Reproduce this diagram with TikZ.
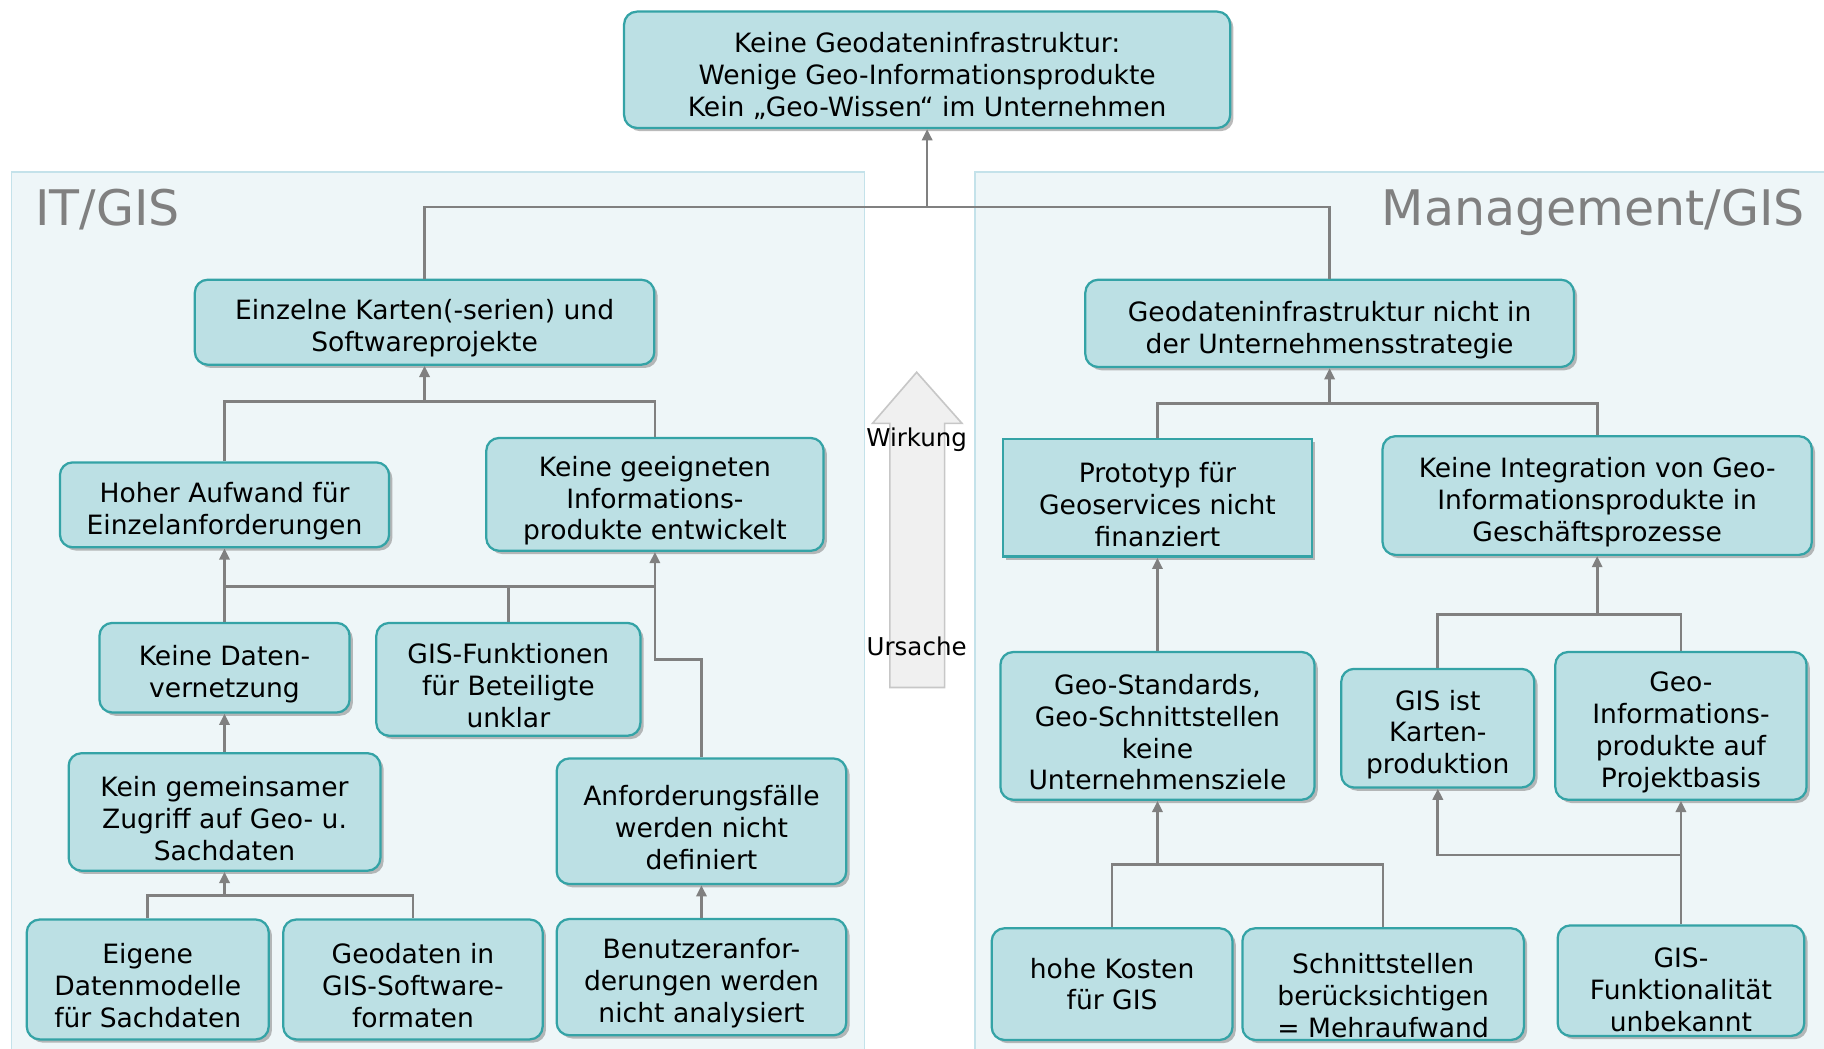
\documentclass[tikz,border=0pt]{standalone}
\usepackage{fontspec}
\setmainfont{DejaVu Sans}
\usepackage{tikz}
\usetikzlibrary{arrows.meta,shadows,calc,positioning}
\definecolor{boxfill}{RGB}{188,224,228}
\definecolor{boxdraw}{RGB}{52,163,166}
\definecolor{panelfill}{RGB}{238,246,248}
\definecolor{paneldraw}{RGB}{196,226,234}
\definecolor{linegray}{RGB}{128,128,128}

\begin{document}
\begin{tikzpicture}[x=0.02cm, y=-0.02cm, >={Triangle[length=5.5pt,width=5pt]},
   sz/.style 2 args={minimum width=#1*0.02cm, minimum height=#2*0.02cm},
   l2/.style={text height=31.7pt}, l3/.style={text height=47.3pt}, l4/.style={text height=62.9pt},
   title/.style={text=black!50, font=\fontsize{24}{28}\selectfont, inner sep=0}]
   \useasboundingbox (0,0) rectangle (1568,901);
   % panels
   \draw[paneldraw, fill=panelfill, line width=0.8pt] (10,148) rectangle (743,910);
   \draw[paneldraw, fill=panelfill, line width=0.8pt] (838,148) rectangle (1575,910);
   \node[title, anchor=base west] (itgis) at (30,194) {IT/GIS};
   \node[title, anchor=base east] (mgmt) at (1552,194) {Management/GIS};
   % Ursache -> Wirkung
   \draw[black!22, fill=black!6, line width=0.8pt] (765,591) -- (765,364) -- (750,364) -- (788,320)
      -- (827,364) -- (812,364) -- (812,591) -- cycle;
   \node[font=\fontsize{12}{14}\selectfont] (wirk) at (788,378) {Wirkung};
   \node[font=\fontsize{12}{14}\selectfont] (urs) at (788,556) {Ursache};
   \begin{scope}[every node/.style={draw=boxdraw, fill=boxfill, line width=1.1pt, rounded corners=0.22cm,
      align=center, inner sep=0, font=\fontsize{13}{15.6}\selectfont,
      drop shadow={shadow xshift=1.6pt, shadow yshift=-1.6pt, fill=black!45, opacity=0.6}}]
    \node[sz={521}{100}, l3] (top) at (797,60) {Keine Geodateninfrastruktur:\\Wenige Geo-Informationsprodukte\\Kein „Geo-Wissen“ im Unternehmen};
    % IT/GIS
    \node[sz={395}{73}, l2] (kart) at (365,277) {Einzelne Karten(-serien) und\\Softwareprojekte};
    \node[sz={283}{73}, l2] (hoher) at (193,434) {Hoher Aufwand für\\Einzelanforderungen};
    \node[sz={290}{97}, l3] (geeig) at (563,425) {Keine geeigneten\\Informations-\\produkte entwickelt};
    \node[sz={215}{77}, l2] (daten) at (193,574) {Keine Daten-\\vernetzung};
    \node[sz={227}{97}, l3] (gisf) at (437,584) {GIS-Funktionen\\für Beteiligte\\unklar};
    \node[sz={268}{101}, l3] (gem) at (193,698) {Kein gemeinsamer\\Zugriff auf Geo- u.\\Sachdaten};
    \node[sz={249}{108}, l3] (anf) at (603,706) {Anforderungsfälle\\werden nicht\\definiert};
    \node[sz={208}{103}, l3] (eig) at (127,842) {Eigene\\Datenmodelle\\für Sachdaten};
    \node[sz={223}{103}, l3] (geod) at (355,842) {Geodaten in\\GIS-Software-\\formaten};
    \node[sz={249}{100}, l3] (ben) at (603,840) {Benutzeranfor-\\derungen werden\\nicht analysiert};
    % Management/GIS
    \node[sz={420}{75}, l2] (strat) at (1143,278) {Geodateninfrastruktur nicht in\\der Unternehmensstrategie};
    \node[sz={266}{101}, l3, sharp corners] (proto) at (995,428) {Prototyp für\\Geoservices nicht\\finanziert};
    \node[sz={369}{102}, l3] (integ) at (1373,426) {Keine Integration von Geo-\\Informationsprodukte in\\Geschäftsprozesse};
    \node[sz={270}{127}, l4] (std) at (995,624) {Geo-Standards,\\Geo-Schnittstellen\\keine\\Unternehmensziele};
    \node[sz={166}{102}, l3] (karte) at (1236,626) {GIS ist\\Karten-\\produktion};
    \node[sz={216}{127}, l4] (prod) at (1445,624) {Geo-\\Informations-\\produkte auf\\Projektbasis};
    \node[sz={207}{96}] (kost) at (956,846) {hohe Kosten\\für GIS};
    \node[sz={242}{96}, text height=52pt] (schn) at (1189,846) {Schnittstellen\\berücksichtigen\\= Mehraufwand};
    \node[sz={212}{95}, text height=50pt] (funk) at (1445,843) {GIS-\\Funktionalität\\unbekannt};
   \end{scope}
   \begin{scope}[draw=linegray, line width=1.3pt]
    \coordinate (j0) at (797,178);
    \coordinate (j1) at (365,345);
    \coordinate (j2) at (563,504);
    \coordinate (j3) at (193,770);
    \coordinate (j4) at (563,567);
    \coordinate (j5) at (1143,347);
    \coordinate (j6) at (1373,528);
    \coordinate (j7) at (995,743);
    \coordinate (j8) at (1445,735);
    \draw (kart.north) |- (j0) -| (strat.north);
    \draw[->] (j0) -- (top.south);
    \draw (hoher.north) |- (j1) -| (geeig.north);
    \draw[->] (j1) -- (kart.south);
    \draw[->] (daten.north) -- (hoher.south);
    \draw (daten.north |- j2) -- (j2);
    \draw (gisf.north) -- (gisf.north |- j2);
    \draw[->] (anf.north) |- (j4) -- (geeig.south);
    \draw[->] (gem.north) -- (daten.south);
    \draw (eig.north) |- (j3) -| (geod.north);
    \draw[->] (j3) -- (gem.south);
    \draw[->] (ben.north) -- (anf.south);
    \draw (proto.north) |- (j5) -| (integ.north);
    \draw[->] (j5) -- (strat.south);
    \draw[->] (std.north) -- (proto.south);
    \draw (karte.north) |- (j6) -| (prod.north);
    \draw[->] (j6) -- (integ.south);
    \draw (kost.north) |- (j7) -| (schn.north);
    \draw[->] (j7) -- (std.south);
    \draw[->] (funk.north) -- (prod.south);
    \draw[->] (funk.north |- j8) -| (karte.south);
   \end{scope}
\end{tikzpicture}
\end{document}
